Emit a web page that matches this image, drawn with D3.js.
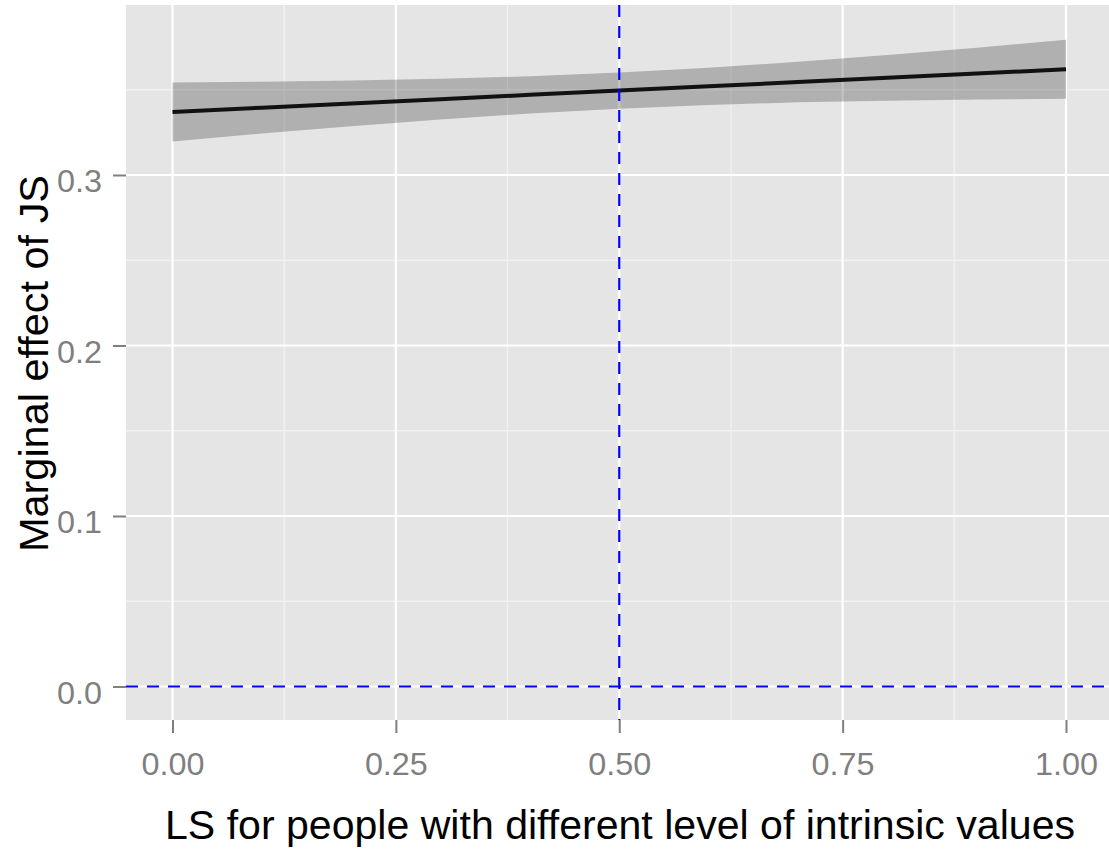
<!DOCTYPE html>
<html>
<head>
<meta charset="utf-8">
<script src="https://cdn.jsdelivr.net/npm/d3@7"></script>
<style>
  body { margin: 0; background: #fff; }
  svg { display: block; font-family: "Liberation Sans", Arial, sans-serif; }
</style>
</head>
<body>
<div class="mainContainer"></div>
<script>
// values
const xValues = [0, 0.1, 0.2, 0.3, 0.4, 0.5, 0.6, 0.7, 0.8, 0.9, 1.0];
const fitValues = [0.337, 0.3395, 0.342, 0.3445, 0.347, 0.3495, 0.352, 0.3545, 0.357, 0.3595, 0.362];
const lowerValues = [0.3197, 0.3243, 0.3286, 0.3326, 0.3361, 0.3389, 0.3411, 0.3426, 0.3436, 0.3443, 0.3447];
const upperValues = [0.3543, 0.3547, 0.3554, 0.3564, 0.3579, 0.3601, 0.3629, 0.3664, 0.3704, 0.3747, 0.3793];
const xTicks = [0, 0.25, 0.5, 0.75, 1.0];
const xTickLabels = ['0.00', '0.25', '0.50', '0.75', '1.00'];
const xMinor = [0.125, 0.375, 0.625, 0.875];
const yTicks = [0, 0.1, 0.2, 0.3];
const yTickLabels = ['0.0', '0.1', '0.2', '0.3'];
const yMinor = [0.05, 0.15, 0.25, 0.35];
const vLine = 0.5;
const hLine = 0;
const xTitle = 'LS for people with different level of intrinsic values';
const yTitle = 'Marginal effect of JS';

const data = xValues.map((x, i) => ({x: x, fit: fitValues[i], lo: lowerValues[i], hi: upperValues[i]}));

const svg = d3.select('.mainContainer')
    .append('svg')
    .attr('width', 1109)
    .attr('height', 852);

const x = d3.scaleLinear().domain([0, 1]).range([172.5, 1066]);
const y = d3.scaleLinear().domain([0, 0.3]).range([686.5, 175]);

const panel = {left: 126, top: 5, right: 1109, bottom: 720};

svg.append('rect')
    .attr('x', panel.left)
    .attr('y', panel.top)
    .attr('width', panel.right - panel.left)
    .attr('height', panel.bottom - panel.top)
    .attr('fill', '#e5e5e5');

const graph = svg.append('g');

// minor grid
graph.selectAll('.xminor').data(xMinor).enter().append('line')
    .attr('x1', d => x(d)).attr('x2', d => x(d))
    .attr('y1', panel.top).attr('y2', panel.bottom)
    .attr('stroke', '#f2f2f2').attr('stroke-width', 1.3);
graph.selectAll('.yminor').data(yMinor).enter().append('line')
    .attr('y1', d => y(d)).attr('y2', d => y(d))
    .attr('x1', panel.left).attr('x2', panel.right)
    .attr('stroke', '#f2f2f2').attr('stroke-width', 1.3);

// major grid
graph.selectAll('.xmajor').data(xTicks).enter().append('line')
    .attr('x1', d => x(d)).attr('x2', d => x(d))
    .attr('y1', panel.top).attr('y2', panel.bottom)
    .attr('stroke', '#ffffff').attr('stroke-width', 2.2);
graph.selectAll('.ymajor').data(yTicks).enter().append('line')
    .attr('y1', d => y(d)).attr('y2', d => y(d))
    .attr('x1', panel.left).attr('x2', panel.right)
    .attr('stroke', '#ffffff').attr('stroke-width', 2.2);

// confidence ribbon
const area = d3.area()
    .x(d => x(d.x))
    .y0(d => y(d.lo))
    .y1(d => y(d.hi));

graph.append('path')
    .datum(data)
    .attr('d', area)
    .attr('fill', '#000')
    .attr('fill-opacity', 0.23);

const line = d3.line()
    .x(d => x(d.x))
    .y(d => y(d.fit));

graph.append('path')
    .datum(data)
    .attr('d', line)
    .attr('fill', 'none')
    .attr('stroke', '#111')
    .attr('stroke-width', 4);

// reference lines
graph.append('line')
    .attr('x1', x(vLine)).attr('x2', x(vLine))
    .attr('y1', panel.top).attr('y2', panel.bottom)
    .attr('stroke', '#0000ff').attr('stroke-width', 2.2)
    .attr('stroke-dasharray', '12,9');
graph.append('line')
    .attr('x1', panel.left).attr('x2', panel.right)
    .attr('y1', y(hLine)).attr('y2', y(hLine))
    .attr('stroke', '#0000ff').attr('stroke-width', 2.2)
    .attr('stroke-dasharray', '12,9');

// axes
const xAxis = d3.axisBottom(x)
    .tickValues(xTicks)
    .tickFormat((d, i) => xTickLabels[i])
    .tickSizeOuter(0)
    .tickSizeInner(13)
    .tickPadding(6);
const yAxis = d3.axisLeft(y)
    .tickValues(yTicks)
    .tickFormat((d, i) => yTickLabels[i])
    .tickSizeOuter(0)
    .tickSizeInner(13)
    .tickPadding(11);

const xAxisGroup = svg.append('g')
    .attr('transform', `translate(0,${panel.bottom})`)
    .call(xAxis);
const yAxisGroup = svg.append('g')
    .attr('transform', `translate(${panel.left},0)`)
    .call(yAxis);

[xAxisGroup, yAxisGroup].forEach(g => {
    g.select('.domain').remove();
    g.selectAll('.tick line').attr('stroke', '#7f7f7f').attr('stroke-width', 2);
    g.selectAll('.tick text')
        .attr('fill', '#7f7f7f')
        .attr('font-size', 31)
        .attr('font-family', '"Liberation Sans", Arial, sans-serif')
        .attr('lengthAdjust', 'spacingAndGlyphs');
});
xAxisGroup.selectAll('.tick text')
    .attr('dy', null)
    .attr('y', 55)
    .attr('textLength', 63);
yAxisGroup.selectAll('.tick text')
    .attr('dy', null)
    .attr('y', 16.5)
    .attr('textLength', 45);

// titles
svg.append('text')
    .attr('x', 620)
    .attr('y', 839)
    .attr('text-anchor', 'middle')
    .attr('font-size', 40)
    .attr('fill', '#000')
    .attr('textLength', 910)
    .attr('lengthAdjust', 'spacingAndGlyphs')
    .text(xTitle);

svg.append('text')
    .attr('transform', 'translate(48,363.5) rotate(-90)')
    .attr('text-anchor', 'middle')
    .attr('font-size', 40)
    .attr('fill', '#000')
    .attr('textLength', 377)
    .attr('lengthAdjust', 'spacingAndGlyphs')
    .text(yTitle);
</script>
</body>
</html>
